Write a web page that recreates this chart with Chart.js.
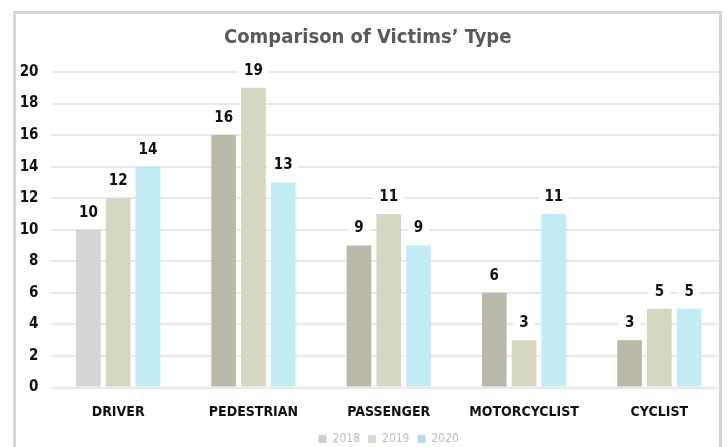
<!DOCTYPE html>
<html>
<head>
<meta charset="utf-8">
<script src="https://cdn.jsdelivr.net/npm/chart.js@4"></script>
<style>
html, body { margin: 0; padding: 0; background: #fff; }
#wrap { position: relative; width: 727px; height: 447px; overflow: hidden; }
#wrap canvas { position: absolute; left: 0; top: 0; }
#frame { position: absolute; left: 13px; top: 11px; width: 703px; height: 460px; border: 3px solid #d6d6d6; pointer-events: none; }
#edge { position: absolute; left: 722px; top: 0; width: 5px; height: 447px; background: #fff; }
</style>
</head>
<body>
<div id="wrap">
  <canvas id="chartVictims" width="727" height="447"></canvas>
  <div id="edge"></div>
  <div id="frame"></div>
</div>
<script>
const categories = ['DRIVER', 'PEDESTRIAN', 'PASSENGER', 'MOTORCYCLIST', 'CYCLIST'];
const years = ['2018', '2019', '2020'];
const v2018 = [10, 16, 9, 6, 3];
const v2019 = [12, 19, 11, 3, 5];
const v2020 = [14, 13, 9, 11, 5];
const yTicks = [0, 2, 4, 6, 8, 10, 12, 14, 16, 18, 20];

const FONT = "'Liberation Sans Narrow', 'DejaVu Sans Condensed', 'Roboto', sans-serif";

// numbers above bars, on a white patch like the original
const valueLabels = {
    id: 'valueLabels',
    afterDatasetsDraw(chart) {
        const ctx = chart.ctx;
        ctx.save();
        ctx.font = 'bold 15px ' + FONT;
        ctx.textAlign = 'center';
        ctx.textBaseline = 'middle';
        chart.data.datasets.forEach((ds, i) => {
            chart.getDatasetMeta(i).data.forEach((bar, j) => {
                const txt = String(ds.data[j]);
                const y = bar.y - 17;
                const w = ctx.measureText(txt).width + 12;
                ctx.fillStyle = '#fff';
                ctx.fillRect(bar.x - w / 2, y - 11, w, 22);
                ctx.fillStyle = '#111';
                ctx.fillText(txt, bar.x, y);
            });
        });
        ctx.restore();
    }
};

const legendColors = ['#cfcfcf', '#dadad0', '#b9dcec'];

new Chart(document.getElementById('chartVictims'), {
    type: 'bar',
    data: {
        labels: categories,
        datasets: [
            { label: years[0], data: v2018, backgroundColor: c => c.dataIndex === 0 ? '#d5d5d5' : '#bbb9a9' },
            { label: years[1], data: v2019, backgroundColor: '#d6d7c1' },
            { label: years[2], data: v2020, backgroundColor: '#c1ecf4' }
        ].map(d => Object.assign(d, { categoryPercentage: 0.66, barPercentage: 0.83 }))
    },
    options: {
        responsive: false,
        animation: false,
        layout: { padding: { top: 26, right: -8.5, bottom: -8, left: 0 } },
        plugins: {
            title: {
                display: true,
                text: 'Comparison of Victims’ Type',
                color: '#5a5a5a',
                font: { family: FONT, size: 20, weight: 'bold' },
                padding: { top: 0, bottom: 22 }
            },
            legend: {
                position: 'bottom',
                fullSize: false,
                labels: {
                    color: '#bdbdbd',
                    font: { family: FONT, size: 12 },
                    boxWidth: 8, boxHeight: 8, padding: 8,
                    generateLabels: chart => Chart.defaults.plugins.legend.labels.generateLabels(chart)
                        .map((l, i) => Object.assign(l, { fillStyle: legendColors[i], strokeStyle: legendColors[i], lineWidth: 0 }))
                }
            },
            tooltip: { enabled: false }
        },
        scales: {
            x: {
                afterFit: s => { s.height = 37.5; },
                grid: { display: false },
                border: { display: false },
                ticks: { color: '#111', font: { family: FONT, size: 14, weight: 'bold' }, padding: 8 }
            },
            y: {
                min: 0, max: 20,
                afterFit: s => { s.width = 50.5; },
                afterBuildTicks: s => { s.ticks = yTicks.map(v => ({ value: v })); },
                grid: { color: '#e9e9e9', lineWidth: 2, drawTicks: false },
                border: { display: false },
                ticks: { color: '#111', font: { family: FONT, size: 15, weight: 'bold' }, padding: 12 }
            }
        }
    },
    plugins: [valueLabels]
});
</script>
</body>
</html>
